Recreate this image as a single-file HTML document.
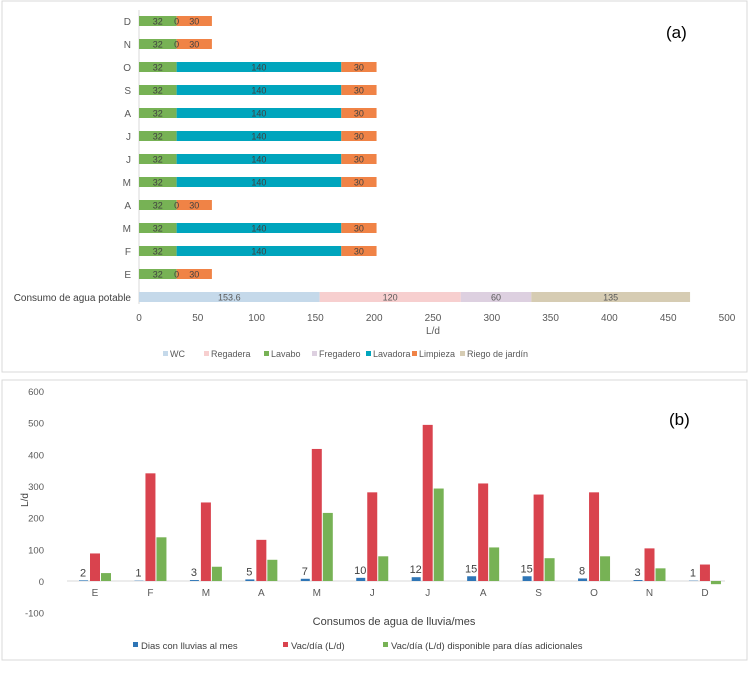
<!DOCTYPE html>
<html><head><meta charset="utf-8"><style>
body{margin:0;width:750px;height:668px;background:#fff;font-family:"Liberation Sans",sans-serif;overflow:hidden}
svg text{font-family:"Liberation Sans",sans-serif}
</style></head><body>
<svg id="s" width="750" height="668">
<rect x="2" y="1" width="745" height="371" fill="#fff" stroke="#d9d9d9"/>
<rect x="2" y="380" width="745" height="280" fill="#fff" stroke="#d9d9d9"/>
<text x="666" y="38" font-size="17">(a)</text>
<text x="669" y="425" font-size="17">(b)</text>
<g id="ga"></g><g id="gal"></g><g id="gb"></g>
</svg>
<script>
const NS="http://www.w3.org/2000/svg";
function mk(p,t,a,txt){const e=document.createElementNS(NS,t);for(const k in a)e.setAttribute(k,a[k]);if(txt!==undefined)e.textContent=txt;p.appendChild(e);return e;}
// ---- chart A data ----
const monthsA=["D","N","O","S","A","J","J","M","A","M","F","E"];
const lavabo=[32,32,32,32,32,32,32,32,32,32,32,32];
const lavadora=[0,0,140,140,140,140,140,140,0,140,140,0];
const limpieza=[30,30,30,30,30,30,30,30,30,30,30,30];
const potable=[153.6,120,60,135];
const potableColors=["#c5d9ea","#f7cfcf","#ddd0e0","#d6ccb3"];
const ticksA=[0,50,100,150,200,250,300,350,400,450,500];
const ga=document.getElementById('ga');
const gal=document.getElementById('gal');
const xA=v=>139+v*(588/500);
const rowY=i=>21+i*23;
let ax=mk(ga,'line',{x1:139,y1:10,x2:139,y2:304,stroke:'#d9d9d9'});

monthsA.forEach((m,i)=>{
 const y=rowY(i);
 const l=mk(ga,'text',{x:131,y:y+4,'font-size':10,'text-anchor':'end',fill:'#595959'},m);
 
 let acc=0;
 [[lavabo[i],'#77b255','lavabo'],[lavadora[i],'#00a5bd','lavadora'],[limpieza[i],'#f08346','limpieza']].forEach(([v,c,n])=>{
  const r=mk(ga,'rect',{x:xA(acc),y:y-5,width:xA(acc+v)-xA(acc),height:10,fill:c});
  
  const t=mk(gal,'text',{x:(xA(acc)+xA(acc+v))/2,y:y+3.5,'font-size':9,'text-anchor':'middle',fill:'#404040'},String(v));
  
  acc+=v;
 });
});
{let y=297,acc=0;
 const l=mk(ga,'text',{x:131,y:y+4,'font-size':10,'text-anchor':'end',fill:'#404040'},'Consumo de agua potable');
 
 potable.forEach((v,k)=>{
  const r=mk(ga,'rect',{x:xA(acc),y:y-5,width:xA(acc+v)-xA(acc),height:10,fill:potableColors[k]});
  
  const t=mk(gal,'text',{x:(xA(acc)+xA(acc+v))/2,y:y+3.5,'font-size':9,'text-anchor':'middle',fill:'#595959'},String(v));
  
  acc+=v;});
}
ticksA.forEach(v=>{const t=mk(ga,'text',{x:xA(v),y:321,'font-size':10,'text-anchor':'middle',fill:'#595959'},String(v));
 });
{const t=mk(ga,'text',{x:433,y:334,'font-size':10,'text-anchor':'middle',fill:'#595959'},'L/d');}
const legA=[["WC","#c5d9ea",163],["Regadera","#f7cfcf",204],["Lavabo","#77b255",264],["Fregadero","#ddd0e0",312],["Lavadora","#00a5bd",366],["Limpieza","#f08346",412],["Riego de jardín","#d6ccb3",460]];
legA.forEach(([n,c,x])=>{const r=mk(ga,'rect',{x:x,y:351,width:5,height:5,fill:c});
 const t=mk(ga,'text',{x:x+7,y:357,'font-size':9,fill:'#595959'},n);});
// ---- chart B data ----
const monthsB=["E","F","M","A","M","J","J","A","S","O","N","D"];
const dias=[2,1,3,5,7,10,12,15,15,8,3,1];
const vac=[87,340,248,130,417,280,493,308,273,280,103,52];
const disp=[25,138,45,67,215,78,292,106,72,78,40,-10];
const ticksB=[600,500,400,300,200,100,0,-100];
const gb=document.getElementById('gb');
const yB=v=>581-v*(190/600);
const xB=i=>95+i*55.45;
ticksB.forEach(v=>{const t=mk(gb,'text',{x:44,y:yB(v)+4,'font-size':9.5,'text-anchor':'end',fill:'#595959'},String(v));
 });
{const a=mk(gb,'line',{x1:67,y1:yB(0),x2:725,y2:yB(0),stroke:'#d9d9d9'});}
monthsB.forEach((m,i)=>{const c=xB(i);
 const b=mk(gb,'rect',{x:c-16,y:Math.min(yB(dias[i]),yB(0)),width:9,height:Math.abs(yB(0)-yB(dias[i])),fill:'#2e75b6'});
 
 const r=mk(gb,'rect',{x:c-5,y:yB(vac[i]),width:10,height:yB(0)-yB(vac[i]),fill:'#d9434e'});
 
 const g=mk(gb,'rect',{x:c+6,y:Math.min(yB(disp[i]),yB(0)),width:10,height:Math.abs(yB(0)-yB(disp[i])),fill:'#77b255'});
 
 const t=mk(gb,'text',{x:c-12,y:yB(dias[i])-4,'font-size':11,'text-anchor':'middle',fill:'#404040'},String(dias[i]));
 
 const l=mk(gb,'text',{x:c,y:596,'font-size':10,'text-anchor':'middle',fill:'#595959'},m);
 
});
{const t=mk(gb,'text',{x:394,y:625,'font-size':11,'text-anchor':'middle',fill:'#404040'},'Consumos de agua de lluvia/mes');}
{const t=mk(gb,'text',{x:28,y:500,'font-size':10,'text-anchor':'middle',fill:'#404040',transform:'rotate(-90 28 500)'},'L/d');}
const legB=[["Dias con lluvias al mes","#2e75b6",133],["Vac/día (L/d)","#d9434e",283],["Vac/día (L/d) disponible para días adicionales","#77b255",383]];
legB.forEach(([n,c,x])=>{const r=mk(gb,'rect',{x:x,y:642,width:5,height:5,fill:c});
 const t=mk(gb,'text',{x:x+8,y:649,'font-size':9.5,fill:'#404040'},n);});
</script>
</body></html>
